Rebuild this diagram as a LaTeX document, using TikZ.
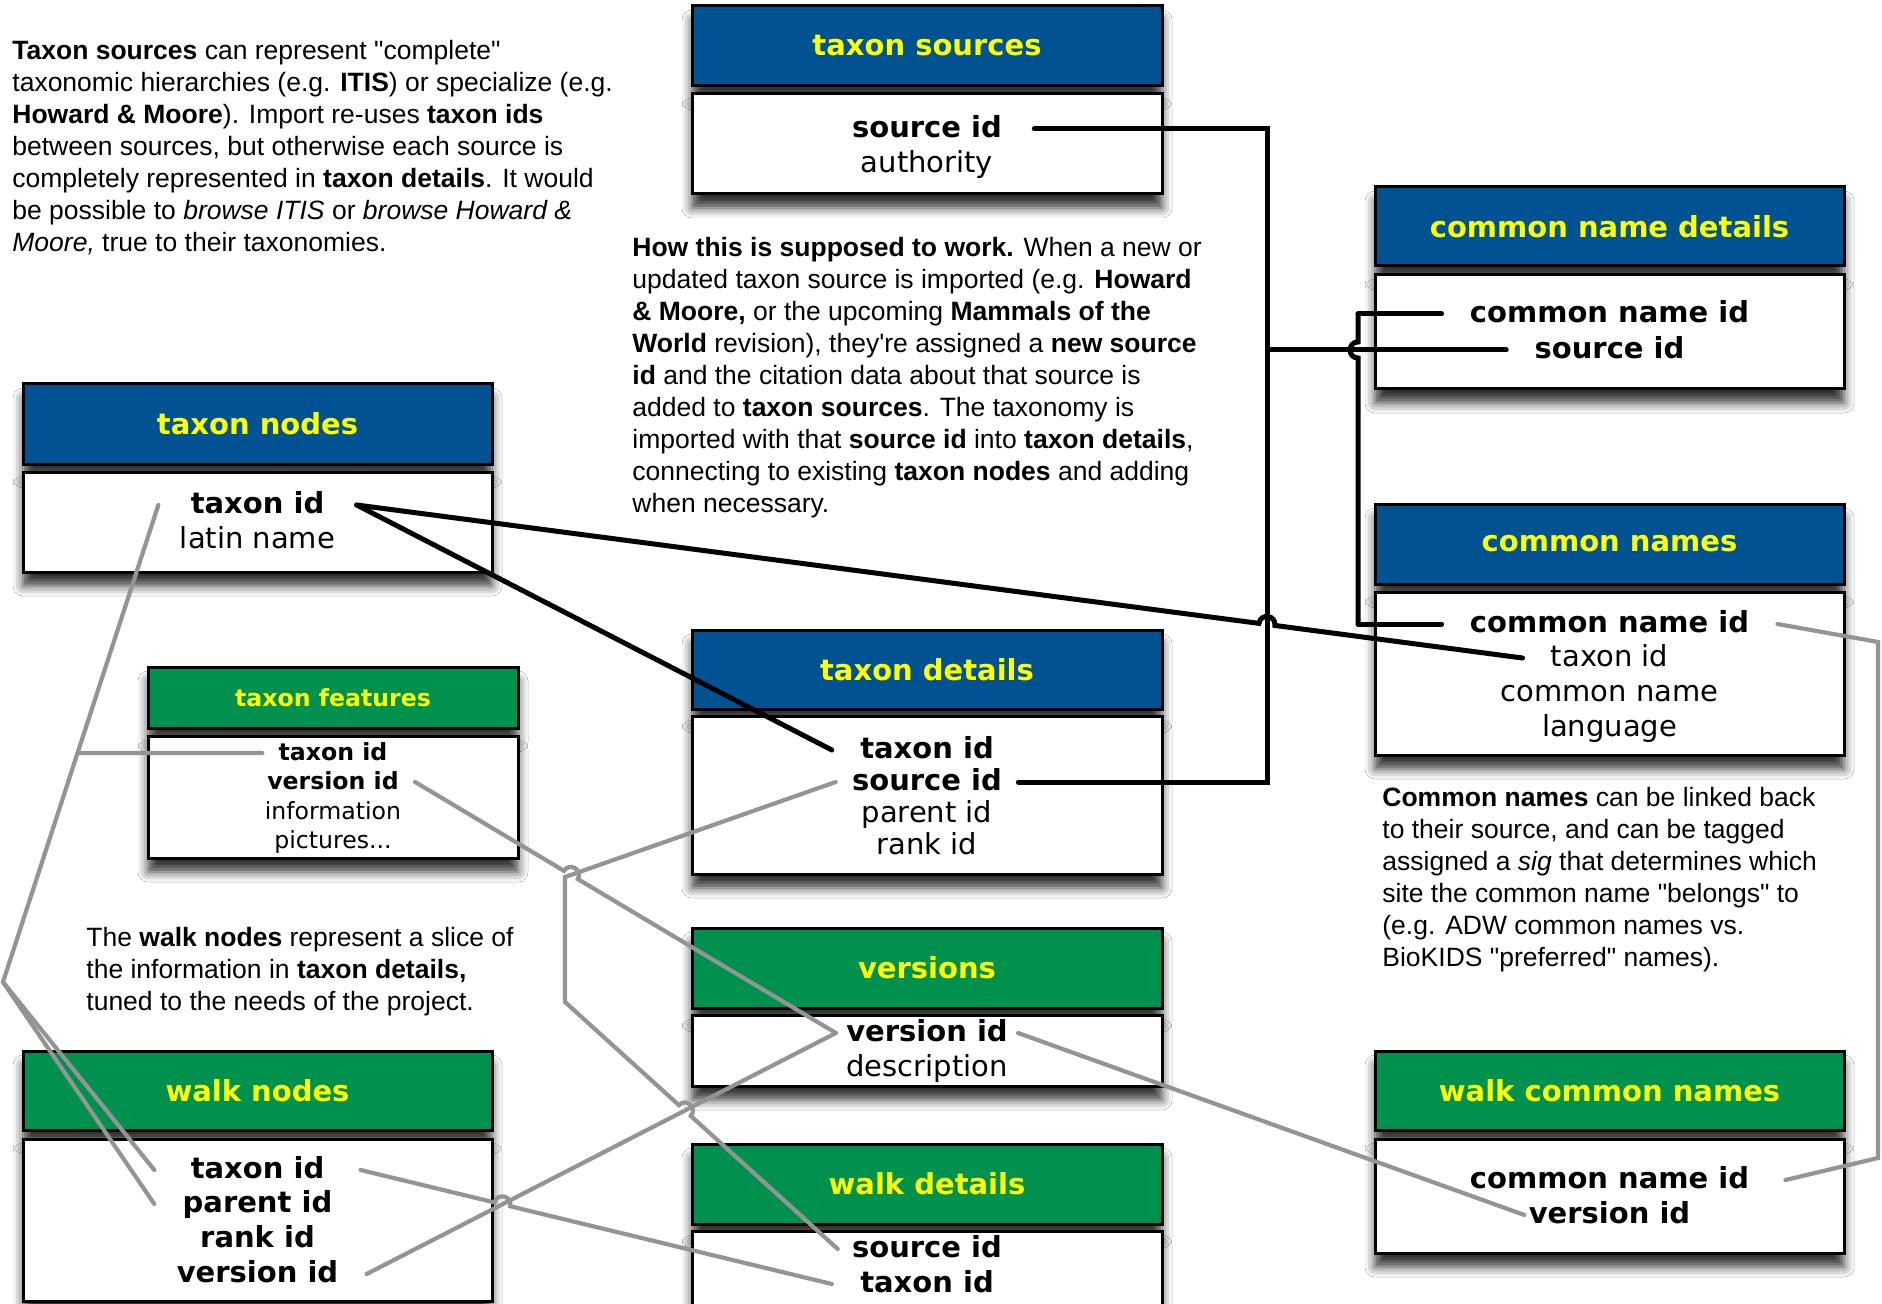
\documentclass[tikz,border=0pt]{standalone}
\usepackage{fontspec}
\newfontfamily\notefont{Liberation Sans}
\newfontfamily\tablefont{DejaVu Sans}
\usetikzlibrary{calc}
\usetikzlibrary{shadows.blur}

\definecolor{headblue}{RGB}{1,82,147}
\definecolor{headgreen}{RGB}{0,145,78}
\definecolor{headyellow}{RGB}{255,255,0}
\definecolor{linkgray}{RGB}{148,148,148}

% line with one hop over a crossing line
\newcommand{\hopseg}[6][keylink]{%
  \path ($(#3)!4pt!(#2)$) coordinate (hop-a) ($(#3)!4pt!(#4)$) coordinate (hop-b);
  \draw[#1] (#2) -- (hop-a) .. controls ($(hop-a)!5.3pt!#5:(#3)$) and ($(hop-b)!5.3pt!#6:(#3)$) .. (hop-b) -- (#4);}

\begin{document}
\begin{tikzpicture}[x=0.5pt, y=-0.5pt,
  tablepart/.style={draw=black, line width=1.5pt, inner sep=0pt,
    blur shadow={shadow xshift=0pt, shadow yshift=-7pt, shadow blur radius=5pt, shadow opacity=80}},
  bluehead/.style={tablepart, fill=headblue, text=headyellow, font=\tablefont\bfseries\fontsize{14.5pt}{17pt}\selectfont},
  greenhead/.style={tablepart, fill=headgreen, text=headyellow, font=\tablefont\bfseries\fontsize{14.5pt}{17pt}\selectfont},
  tablebody/.style={tablepart, fill=white},
  keyrow/.style={font=\tablefont\bfseries\fontsize{14.5pt}{17pt}\selectfont, inner xsep=14pt, inner ysep=0pt, text height=11pt, text depth=2.5pt},
  plainrow/.style={font=\tablefont\fontsize{14.5pt}{17pt}\selectfont, inner xsep=14pt, inner ysep=0pt, text height=11pt, text depth=2.5pt},
  smallkeyrow/.style={font=\tablefont\bfseries\fontsize{11.8pt}{14pt}\selectfont, inner xsep=8pt, inner ysep=0pt, text height=9pt, text depth=2pt},
  smallplainrow/.style={font=\tablefont\fontsize{11.8pt}{14pt}\selectfont, inner xsep=8pt, inner ysep=0pt, text height=9pt, text depth=2pt},
  note/.style={font=\notefont\fontsize{13.25pt}{16pt}\selectfont, align=left, anchor=north west, inner sep=0pt},
  keylink/.style={line width=2.5pt, black, line cap=round},
  walklink/.style={line width=2.1pt, linkgray, line cap=round}]

\fill[white] (0,0) rectangle (1882,1304);
\useasboundingbox (0,0) rectangle (1882,1304);

% notes
\node[note] (sourcesNote) at (12,40) {\textbf{Taxon sources} can represent "complete"\\
taxonomic hierarchies (e.g. \textbf{ITIS}) or specialize (e.g.\\
\textbf{Howard \& Moore}). Import re-uses \textbf{taxon ids}\\
between sources, but otherwise each source is\\
completely represented in \textbf{taxon details}. It would\\
be possible to \textit{browse ITIS} or \textit{browse Howard \&}\\
\textit{Moore,} true to their taxonomies.};
\node[note] (workNote) at (632,237) {\textbf{How this is supposed to work.} When a new or\\
updated taxon source is imported (e.g. \textbf{Howard}\\
\textbf{\& Moore,} or the upcoming \textbf{Mammals of the}\\
\textbf{World} revision), they're assigned a \textbf{new source}\\
\textbf{id} and the citation data about that source is\\
added to \textbf{taxon sources}. The taxonomy is\\
imported with that \textbf{source id} into \textbf{taxon details},\\
connecting to existing \textbf{taxon nodes} and adding\\
when necessary.};
\node[note] (commonNote) at (1382,787) {\textbf{Common names} can be linked back\\
to their source, and can be tagged\\
assigned a \textit{sig} that determines which\\
site the common name "belongs" to\\
(e.g. ADW common names vs.\\
BioKIDS "preferred" names).};
\node[note] (walkNote) at (86,927) {The \textbf{walk nodes} represent a slice of\\
the information in \textbf{taxon details,}\\
tuned to the needs of the project.};

% taxon sources
\node[bluehead, minimum width=235pt, minimum height=40pt] (tsHead) at (927,46) {taxon sources};
\node[tablebody, minimum width=235pt, minimum height=50pt] (tsBody) at (927,144) {};
\node[keyrow, inner xsep=16pt] (tsSrc) at (927,129) {source id};
\node[plainrow] (tsAuth) at (927,164) {authority};

% common name details
\node[bluehead, minimum width=234.5pt, minimum height=39.5pt] (cndHead) at (1609.5,226.5) {common name details};
\node[tablebody, minimum width=234.5pt, minimum height=57pt] (cndBody) at (1609.5,332) {};
\node[keyrow] (cndCnid) at (1609.5,314) {common name id};
\node[keyrow] (cndSrc) at (1609.5,350) {source id};

% common names
\node[bluehead, minimum width=234.5pt, minimum height=40pt] (cnHead) at (1609.5,544) {common names};
\node[tablebody, minimum width=234.5pt, minimum height=81.5pt] (cnBody) at (1609.5,673.5) {};
\node[keyrow] (cnCnid) at (1609.5,624) {common name id};
\node[plainrow] (cnTaxon) at (1609.5,658) {taxon id};
\node[plainrow] (cnName) at (1609.5,693) {common name};
\node[plainrow] (cnLang) at (1609.5,728) {language};

% walk common names
\node[greenhead, minimum width=234.5pt, minimum height=39.5pt] (wcnHead) at (1609.5,1090.5) {walk common names};
\node[tablebody, minimum width=234.5pt, minimum height=57pt] (wcnBody) at (1609.5,1196) {};
\node[keyrow, inner xsep=18pt] (wcnCnid) at (1609.5,1180) {common name id};
\node[keyrow, inner xsep=2pt] (wcnVer) at (1609.5,1215) {version id};

% taxon nodes
\node[bluehead, minimum width=234.5pt, minimum height=40pt] (tnHead) at (257.5,424) {taxon nodes};
\node[tablebody, minimum width=234.5pt, minimum height=50pt] (tnBody) at (257.5,522) {};
\node[keyrow, inner xsep=16pt] (tnTaxon) at (257.5,505) {taxon id};
\node[plainrow] (tnLatin) at (257.5,540) {latin name};

% taxon features
\node[greenhead, font=\tablefont\bfseries\fontsize{11.8pt}{14pt}\selectfont, minimum width=185pt, minimum height=30.5pt] (tfHead) at (333,697.5) {taxon features};
\node[tablebody, minimum width=185pt, minimum height=61pt] (tfBody) at (333,797) {};
\node[smallkeyrow] (tfTaxon) at (333,753) {taxon id};
\node[smallkeyrow] (tfVer) at (333,782) {version id};
\node[smallplainrow] (tfInfo) at (333,812) {information};
\node[smallplainrow] (tfPics) at (333,841) {pictures...};

% taxon details
\node[bluehead, minimum width=235pt, minimum height=39.5pt] (tdHead) at (927,669.5) {taxon details};
\node[tablebody, minimum width=235pt, minimum height=79pt] (tdBody) at (927,795) {};
\node[keyrow] (tdTaxon) at (927,750) {taxon id};
\node[keyrow, inner xsep=8pt] (tdSrc) at (927,782) {source id};
\node[plainrow] (tdParent) at (927,814) {parent id};
\node[plainrow] (tdRank) at (927,846) {rank id};

% versions
\node[greenhead, minimum width=235pt, minimum height=40pt] (verHead) at (927,968) {versions};
\node[tablebody, minimum width=235pt, minimum height=35.5pt] (verBody) at (927,1050.5) {};
\node[keyrow, inner xsep=5pt] (verVer) at (927,1033) {version id};
\node[plainrow] (verDesc) at (927,1068) {description};

% walk details
\node[greenhead, minimum width=235pt, minimum height=40pt] (wdHead) at (927,1184) {walk details};
\node[tablebody, minimum width=235pt, minimum height=37.5pt] (wdBody) at (927,1268.5) {};
\node[keyrow, inner xsep=7pt] (wdSrc) at (927,1249) {source id};
\node[keyrow] (wdTaxon) at (927,1284) {taxon id};

% walk nodes
\node[greenhead, minimum width=234.5pt, minimum height=39.5pt] (wnHead) at (257.5,1090.5) {walk nodes};
\node[tablebody, minimum width=234.5pt, minimum height=81pt] (wnBody) at (257.5,1220) {};
\node[keyrow, inner xsep=18pt] (wnTaxon) at (257.5,1170) {taxon id};
\node[keyrow] (wnParent) at (257.5,1204) {parent id};
\node[keyrow] (wnRank) at (257.5,1239) {rank id};
\node[keyrow] (wnVer) at (257.5,1274) {version id};

% bend points
\coordinate (busX) at (1267,0);
\coordinate (busTop) at (busX |- tsSrc.east);
\coordinate (busBot) at (busX |- tdSrc.east);
\coordinate (cnBusX) at (1358,0);
\coordinate (cnBusTop) at (cnBusX |- cndCnid.west);
\coordinate (cnBusBot) at (cnBusX |- cnCnid.west);
\coordinate (cnBusCross) at (cnBusX |- cndSrc.west);
\coordinate (apex) at (3,982);
\coordinate (tfJoin) at ($(tnTaxon.west)!0.52!(apex)$);
\coordinate (srcBendA) at (565,877);
\coordinate (srcBendB) at (565,1002);
\coordinate (rimTop) at (1878,642);
\coordinate (rimBot) at (1878,1158);
\coordinate (busCross) at (intersection of tnTaxon.east--cnTaxon.west and busTop--busBot);
\coordinate (featCross) at (intersection of tfVer.east--verVer.west and tdSrc.west--srcBendA);
\coordinate (walkCross) at (intersection of srcBendB--wdSrc.west and wnVer.east--verVer.west);
\coordinate (nodeCross) at (intersection of wnTaxon.east--wdTaxon.west and wnVer.east--verVer.west);

% black links
\draw[keylink] (tsSrc.east) -| (busBot) -- (tdSrc.east);
\draw[keylink] (busTop) |- (cndSrc.west);
\draw[keylink] (cndCnid.west) -- (cnBusTop);
\hopseg{cnBusTop}{cnBusCross}{cnBusBot}{-90}{90}
\draw[keylink] (cnBusBot) -- (cnCnid.west);
\hopseg{tnTaxon.east}{busCross}{cnTaxon.west}{90}{-90}
\draw[keylink] (tnTaxon.east) -- (tdTaxon.west);

% gray links
\draw[walklink] (tnTaxon.west) -- (apex) -- (wnTaxon.west);
\draw[walklink] (apex) -- (wnParent.west);
\draw[walklink] (tfTaxon.west) -- (tfJoin);
\hopseg[walklink]{tfVer.east}{featCross}{verVer.west}{90}{-90}
\draw[walklink] (tdSrc.west) -- (srcBendA) -- (srcBendB);
\hopseg[walklink]{srcBendB}{walkCross}{wdSrc.west}{90}{-90}
\draw[walklink] (wnVer.east) -- (verVer.west);
\hopseg[walklink]{wnTaxon.east}{nodeCross}{wdTaxon.west}{90}{-90}
\draw[walklink] (verVer.east) -- (wcnVer.west);
\draw[walklink] (cnCnid.east) -- (rimTop) -- (rimBot) -- (wcnCnid.east);
\end{tikzpicture}
\end{document}
